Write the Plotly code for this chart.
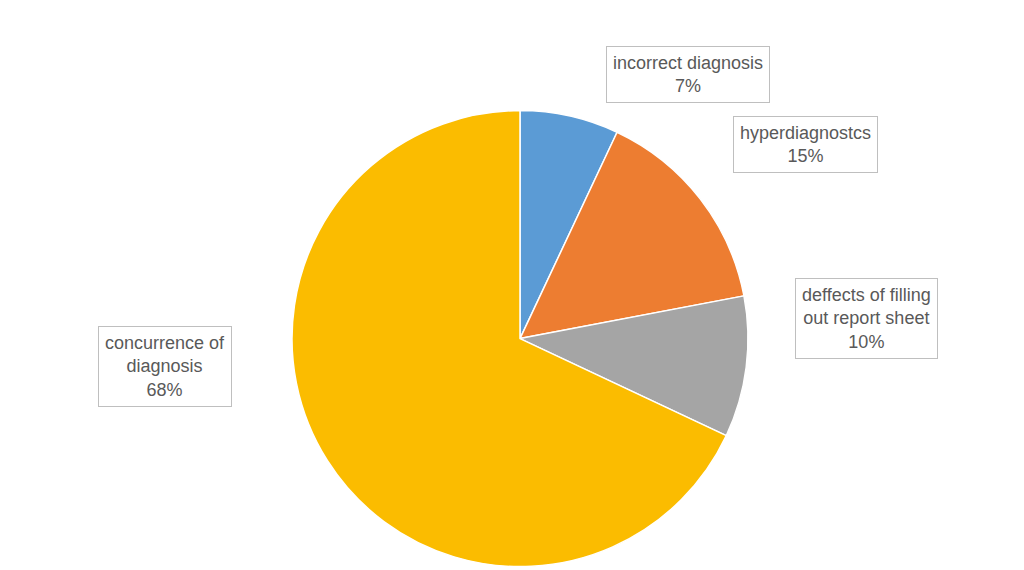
import plotly.graph_objects as go

labels = ["incorrect diagnosis", "hyperdiagnostcs", "deffects of filling<br>out report sheet", "concurrence of<br>diagnosis"]
values = [7, 15, 10, 68]
colors = ["#5B9BD5", "#ED7D31", "#A5A5A5", "#FBBC00"]

fig = go.Figure(go.Pie(
    labels=labels, values=values, sort=False, direction="clockwise", rotation=0,
    marker=dict(colors=colors, line=dict(color="white", width=1.5)),
    textinfo="none", hoverinfo="label+percent", showlegend=False,
    domain=dict(x=[0.1, 0.9], y=[0.02, 0.82])
))

pos = [(0.664, 0.933), (0.85, 0.81), (0.908, 0.456), (0.088, 0.30)]
total = sum(values)
for (x, y), lab, v in zip(pos, labels, values):
    fig.add_annotation(x=x, y=y, xref="paper", yref="paper", showarrow=False,
                       text=f"{lab}<br>{round(100*v/total)}%",
                       font=dict(family="Liberation Sans", size=18, color="#595959"),
                       bgcolor="white", bordercolor="#BFBFBF", borderwidth=1, borderpad=6)

fig.update_layout(width=1024, height=570, margin=dict(l=0, r=0, t=0, b=0),
                  paper_bgcolor="white")
fig.write_html("out.html")
